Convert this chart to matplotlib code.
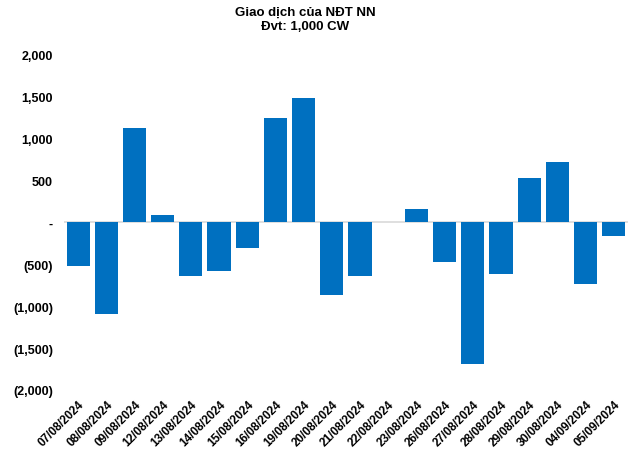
import matplotlib
matplotlib.use('Agg')
import matplotlib.pyplot as plt
import numpy as np

plt.rcParams['font.family'] = ['Liberation Sans', 'DejaVu Sans']

# ngay giao dich
dates = ['07/08/2024', '08/08/2024', '09/08/2024', '12/08/2024', '13/08/2024',
         '14/08/2024', '15/08/2024', '16/08/2024', '19/08/2024', '20/08/2024',
         '21/08/2024', '22/08/2024', '23/08/2024', '26/08/2024', '27/08/2024',
         '28/08/2024', '29/08/2024', '30/08/2024', '04/09/2024', '05/09/2024']
# gia tri mua/ban rong (1,000 CW)
net_value = [-520, -1090, 1120, 85, -648, -588, -314, 1243, 1482, -874,
             -648, 0, 159, -481, -1685, -624, 528, 719, -743, -171]

y_ticks = [-2000, -1500, -1000, -500, 0, 500, 1000, 1500, 2000]

def fmt(v):
    if v == 0:
        return '-'
    if v < 0:
        return '({:,})'.format(-v)
    return '{:,}'.format(v)

fig = plt.figure(figsize=(6.4, 4.52), dpi=100)
ax = fig.add_axes([0.1, 0.135, 0.881, 0.743])

x = np.arange(len(dates))
ax.bar(x, net_value, width=0.82, color='#0070C0', zorder=2)
ax.axhline(0, color='#D9D9D9', lw=1.2, zorder=1)

ax.set_xlim(-0.5, len(dates) - 0.5)
ax.set_ylim(-2000, 2000)
ax.set_yticks(y_ticks)
ax.set_yticklabels([fmt(v) for v in y_ticks], fontsize=9, fontweight='bold')
ax.set_xticks(x)
ax.set_xticklabels(dates, rotation=45, ha='right', rotation_mode='anchor',
                   fontsize=8.5, fontweight='bold')
ax.tick_params(axis='both', length=0)
ax.tick_params(axis='y', pad=8)
ax.tick_params(axis='x', pad=6)
for s in ax.spines.values():
    s.set_visible(False)

fig.text(0.477, 0.985, 'Giao dịch của NĐT NN', ha='center', va='top',
         fontsize=9.5, fontweight='bold')
fig.text(0.477, 0.953, 'Đvt: 1,000 CW', ha='center', va='top',
         fontsize=9.5, fontweight='bold')

fig.savefig('out.png', dpi=100, facecolor='w')
